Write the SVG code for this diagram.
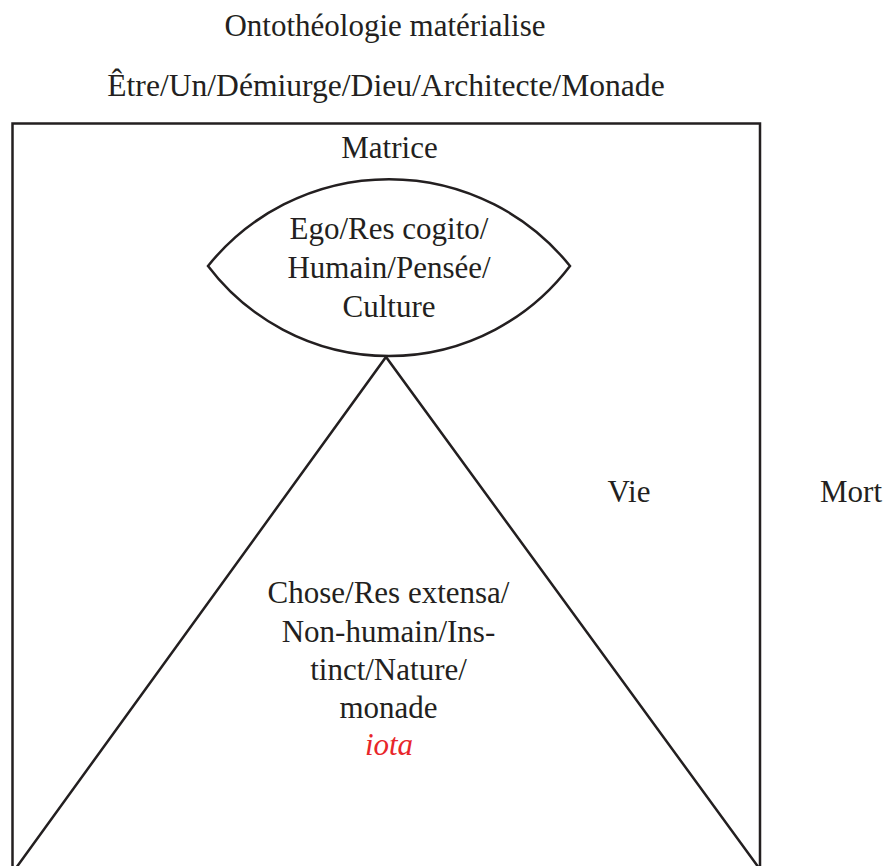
<svg xmlns="http://www.w3.org/2000/svg" width="888" height="866" viewBox="0 0 888 866">
<style>
.t{font-family:"Liberation Serif","Times New Roman",serif;font-size:31px;fill:#231f20;text-anchor:middle}
.l{fill:none;stroke:#231f20;stroke-width:2.5}
.r{fill:#e8262a;font-style:italic}
</style>
<rect width="888" height="866" fill="#fff"/>
<g id="titre">
<text class="t" x="385" y="36">Ontothéologie matérialise</text>
<text class="t" x="386" y="96" style="font-size:31.6px">Être/Un/Démiurge/Dieu/Architecte/Monade</text>
</g>
<g id="matrice">
<path class="l" d="M12.5,870 V123.5 H760 V870"/>
<text class="t" x="389.5" y="158">Matrice</text>
</g>
<g id="ego">
<path class="l" d="M208,266 A232,232 0 0 1 570,266 A227,227 0 0 1 208,266 Z"/>
<text class="t" x="389" y="239">Ego/Res cogito/</text>
<text class="t" x="389" y="278">Humain/Pensée/</text>
<text class="t" x="389" y="317">Culture</text>
</g>
<g id="chose">
<path class="l" d="M16,868 L386,357 L759,868"/>
<text class="t" x="388.5" y="603">Chose/Res extensa/</text>
<text class="t" x="388.5" y="642">Non-humain/Ins-</text>
<text class="t" x="388.5" y="680">tinct/Nature/</text>
<text class="t" x="388.5" y="718">monade</text>
<text class="t r" x="389" y="755">iota</text>
</g>
<g id="vie">
<text class="t" x="629" y="502">Vie</text>
</g>
<g id="mort">
<text class="t" x="851" y="502">Mort</text>
</g>
<g id="connecteurs"></g>
</svg>
